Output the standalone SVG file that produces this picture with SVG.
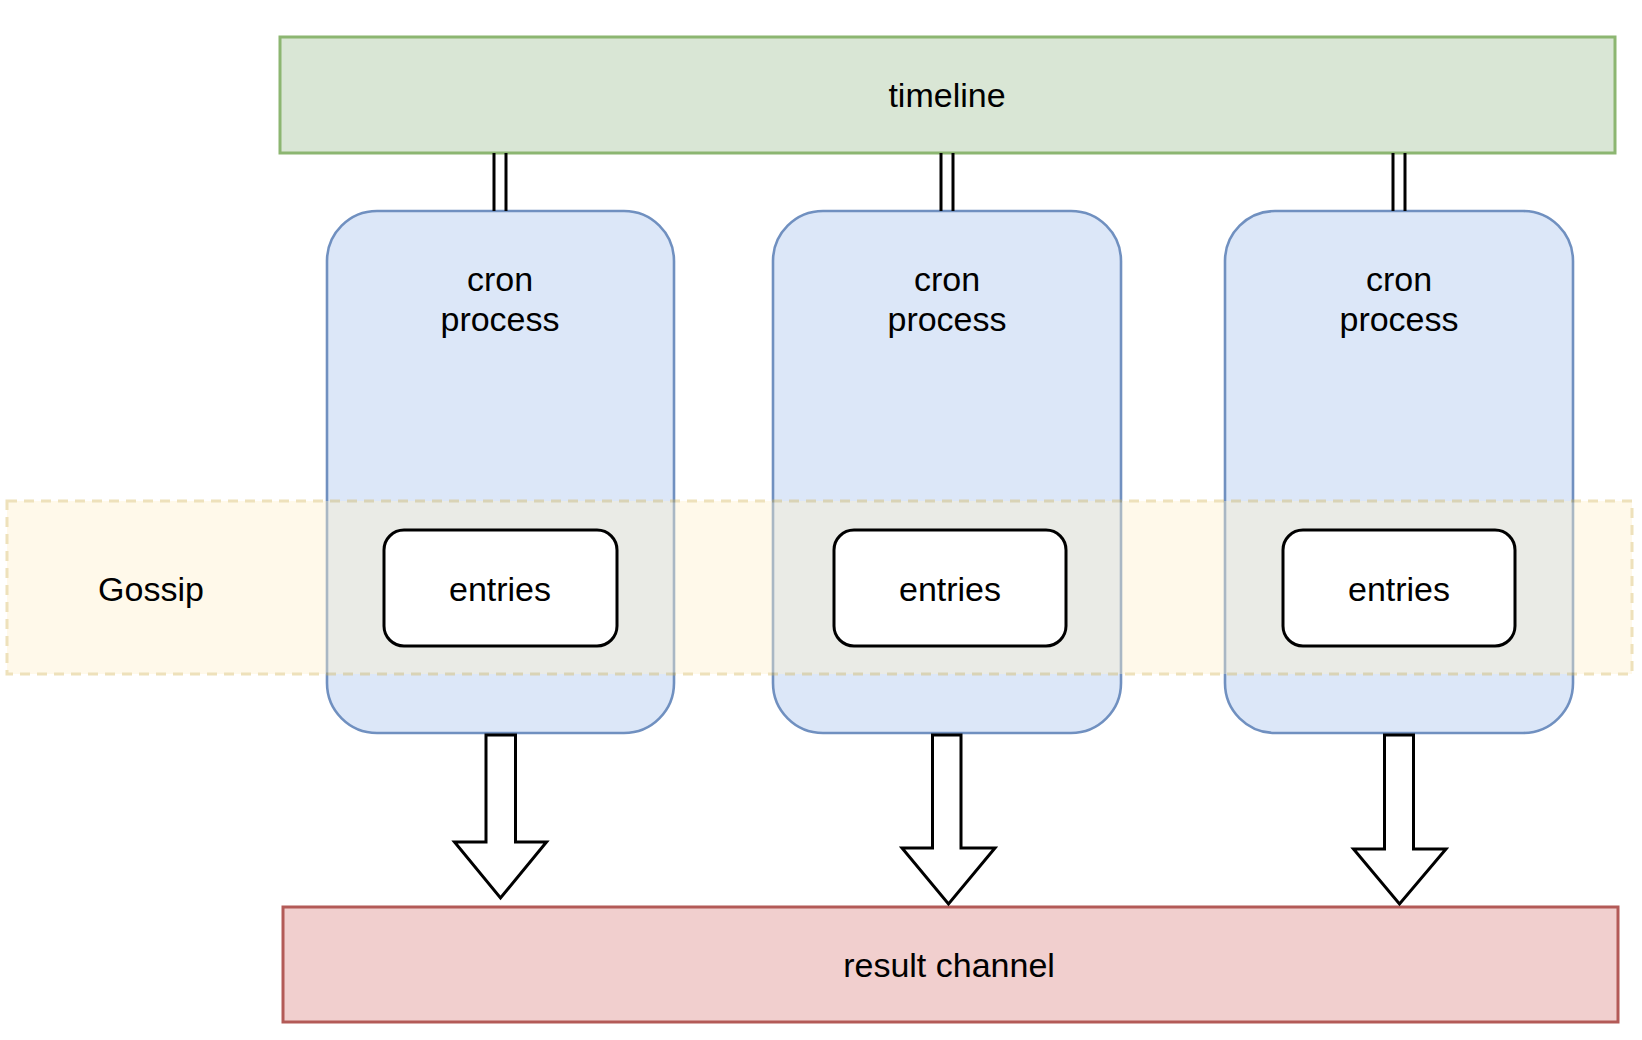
<svg xmlns="http://www.w3.org/2000/svg" width="1642" height="1040" viewBox="0 0 1642 1040">
<style>
text{font-family:"Liberation Sans",Arial,Helvetica,sans-serif;font-size:34px;fill:#000;text-anchor:middle}
.tl{fill:#d9e6d5;stroke:#8cb671;stroke-width:3}
.cr{fill:#dce7f8;stroke:#7090c0;stroke-width:2.6}
.rc{fill:#f1cfce;stroke:#b35a57;stroke-width:3}
.gs{fill:#fff2cc;stroke:#d6b656;stroke-width:3;stroke-dasharray:10 7;opacity:0.4}
.en{fill:#fff;stroke:#000;stroke-width:3}
.ln{stroke:#000;stroke-width:3;fill:none}
.ar{fill:#fff;stroke:#000;stroke-width:3;stroke-linejoin:miter}
</style>
<rect width="1642" height="1040" fill="#fff"/>
<g id="timeline">
<rect class="tl" x="280" y="37" width="1335" height="116"/>
<text x="947" y="107">timeline</text>
</g>
<g id="cron1">
<rect class="cr" x="327" y="211" width="347" height="522" rx="50" ry="50"/>
<text x="500" y="291">cron</text>
<text x="500" y="331">process</text>
</g>
<g id="cron2">
<rect class="cr" x="773" y="211" width="348" height="522" rx="50" ry="50"/>
<text x="947" y="291">cron</text>
<text x="947" y="331">process</text>
</g>
<g id="cron3">
<rect class="cr" x="1225" y="211" width="348" height="522" rx="50" ry="50"/>
<text x="1399" y="291">cron</text>
<text x="1399" y="331">process</text>
</g>
<g id="gossip">
<rect class="gs" x="7" y="501" width="1625" height="173"/>
<text x="151" y="601">Gossip</text>
</g>
<g id="entries1">
<rect class="en" x="384" y="530" width="233" height="116" rx="20" ry="20"/>
<text x="500" y="601">entries</text>
</g>
<g id="entries2">
<rect class="en" x="834" y="530" width="232" height="116" rx="20" ry="20"/>
<text x="950" y="601">entries</text>
</g>
<g id="entries3">
<rect class="en" x="1283" y="530" width="232" height="116" rx="20" ry="20"/>
<text x="1399" y="601">entries</text>
</g>
<g id="result">
<rect class="rc" x="283" y="907" width="1335" height="115"/>
<text x="949" y="977">result channel</text>
</g>
<g id="connectors">
<path class="ln" d="M494 153V211M506 153V211"/>
<path class="ln" d="M941 153V211M953 153V211"/>
<path class="ln" d="M1393 153V211M1405 153V211"/>
<path class="ar" d="M486 735H515.5V842H546.5L500.5 898L454.5 842H486Z"/>
<path class="ar" d="M932.5 735H961V848H995L948.5 904L902 848H932.5Z"/>
<path class="ar" d="M1384.5 735H1413.5V849H1446L1399.5 904L1353.5 849H1384.5Z"/>
</g>
</svg>
